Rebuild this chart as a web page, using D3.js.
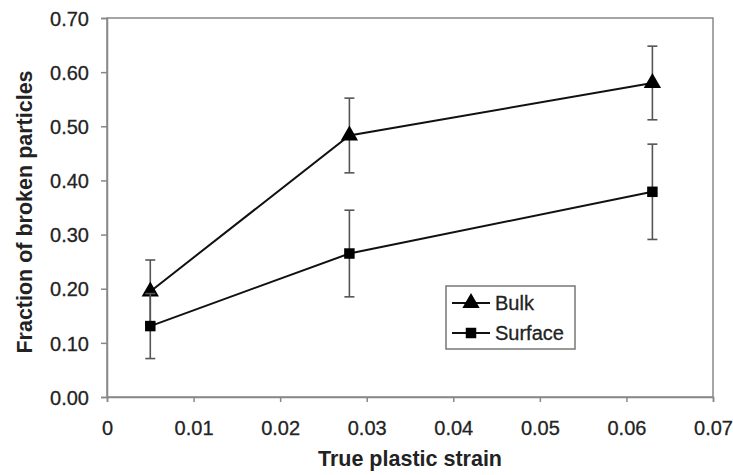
<!DOCTYPE html>
<html><head><meta charset="utf-8">
<script src="https://cdn.jsdelivr.net/npm/d3@7"></script>
<style>body{margin:0;background:#fff}svg{display:block}text{font-family:"Liberation Sans",Arial,sans-serif;fill:#222}</style>
</head><body><svg id="c" width="733" height="475"></svg>
<script>
const strain = [0.005, 0.028, 0.063];
const bulk = [0.195, 0.483, 0.580];
const bulkErr = [0.058, 0.069, 0.068];
const surface = [0.131, 0.265, 0.379];
const surfaceErr = [0.060, 0.080, 0.088];
const xTicks = [0, 0.01, 0.02, 0.03, 0.04, 0.05, 0.06, 0.07];
const yTicks = [0, 0.1, 0.2, 0.3, 0.4, 0.5, 0.6, 0.7];
const seriesNames = ["Bulk", "Surface"];

const svg = d3.select("#c");
const x = d3.scaleLinear().domain([0, 0.07]).range([107, 713]);
const y = d3.scaleLinear().domain([0, 0.7]).range([397, 18]);

// frame
svg.append("rect").attr("x", 107).attr("y", 18).attr("width", 606).attr("height", 379)
  .attr("fill", "none").attr("stroke", "#888").attr("stroke-width", 1.5);

const xAxis = svg.append("g").attr("transform", "translate(0,397)")
  .call(d3.axisBottom(x).tickValues(xTicks).tickSize(5).tickFormat(d => d === 0 ? "0" : d3.format(".2f")(d)));
const yAxis = svg.append("g").attr("transform", "translate(107,0)")
  .call(d3.axisLeft(y).tickValues(yTicks).tickSize(6).tickFormat(d3.format(".2f")));
[xAxis, yAxis].forEach(g => {
  g.select(".domain").attr("stroke", "#888").attr("stroke-width", 1.5);
  g.selectAll(".tick line").attr("stroke", "#888").attr("stroke-width", 1.5);
  g.selectAll("text").style("font-size", "20px").style("font-family", "Liberation Sans, Arial, sans-serif")
    .attr("fill", "#2a2a2a").attr("stroke", "#2a2a2a").attr("stroke-width", 0.3);
});
xAxis.selectAll("text").attr("y", 38).attr("dy", null);
yAxis.selectAll("text").attr("x", -18).attr("dy", "0.36em");

svg.append("text").attr("x", 410).attr("y", 466).attr("text-anchor", "middle")
  .style("font-size", "21.5px").style("font-weight", "bold").text("True plastic strain");
svg.append("text").attr("transform", "translate(32,212) rotate(-90)").attr("text-anchor", "middle")
  .style("font-size", "21.5px").style("font-weight", "bold").text("Fraction of broken particles");

const line = d3.line().x(d => x(d[0])).y(d => y(d[1]));
const series = [
  {vals: bulk, err: bulkErr, sym: d3.symbolTriangle, size: 130},
  {vals: surface, err: surfaceErr, sym: d3.symbolSquare, size: 110}
];
series.forEach(s => {
  const pts = strain.map((v, i) => [v, s.vals[i], s.err[i]]);
  const eb = svg.append("g").attr("stroke", "#555").attr("stroke-width", 1.6);
  pts.forEach(p => {
    eb.append("line").attr("x1", x(p[0])).attr("x2", x(p[0])).attr("y1", y(p[1] - p[2])).attr("y2", y(p[1] + p[2]));
    [p[1] - p[2], p[1] + p[2]].forEach(v => eb.append("line").attr("x1", x(p[0]) - 5).attr("x2", x(p[0]) + 5).attr("y1", y(v)).attr("y2", y(v)));
  });
  svg.append("path").datum(pts).attr("d", line).attr("fill", "none").attr("stroke", "#111").attr("stroke-width", 2);
  svg.selectAll(null).data(pts).enter().append("path")
    .attr("d", d3.symbol().type(s.sym).size(s.size))
    .attr("transform", d => `translate(${x(d[0])},${y(d[1])})`).attr("fill", "#000");
});

// legend
const lg = svg.append("g");
lg.append("rect").attr("x", 446).attr("y", 286).attr("width", 129).attr("height", 63)
  .attr("fill", "#fff").attr("stroke", "#777").attr("stroke-width", 1.5);
seriesNames.forEach((n, i) => {
  const yy = 303 + i * 30;
  lg.append("line").attr("x1", 452).attr("x2", 490).attr("y1", yy).attr("y2", yy).attr("stroke", "#111").attr("stroke-width", 2);
  lg.append("path").attr("d", d3.symbol().type(series[i].sym).size(series[i].size)).attr("transform", `translate(471,${yy})`).attr("fill", "#000");
  lg.append("text").attr("x", 495).attr("y", yy + 7).style("font-size", "20px")
    .attr("stroke", "#222").attr("stroke-width", 0.3).text(n);
});
</script></body></html>
